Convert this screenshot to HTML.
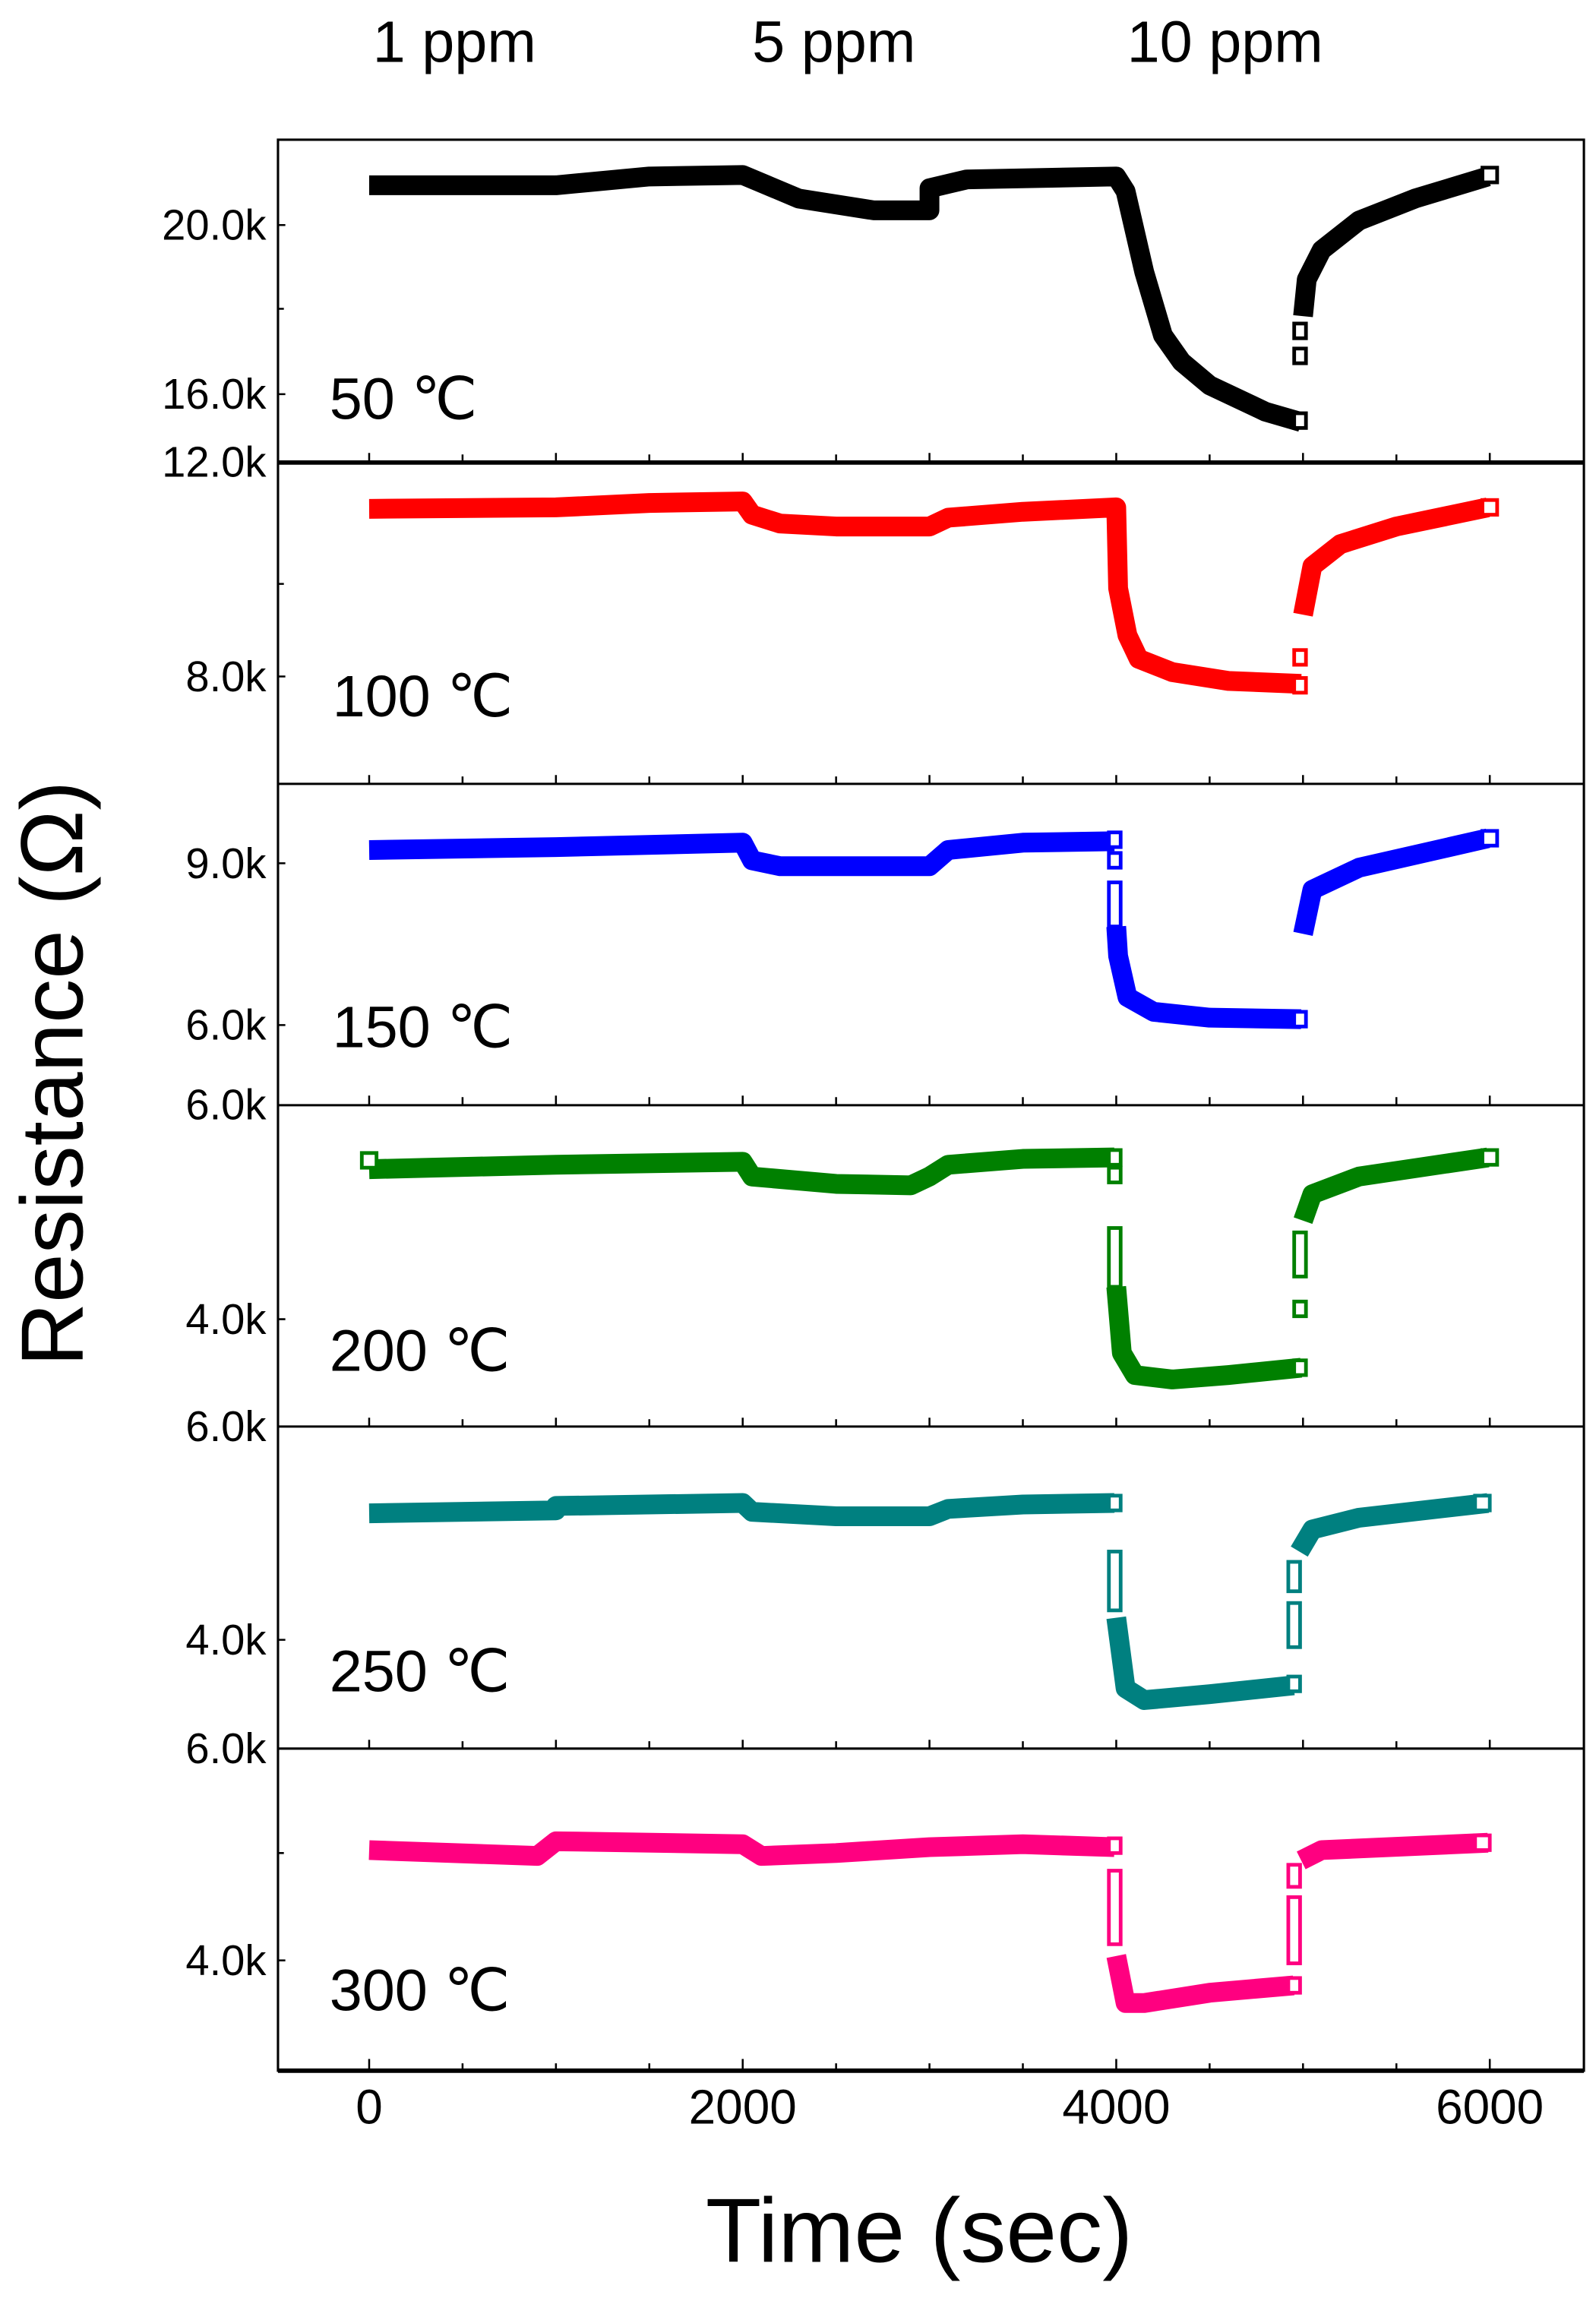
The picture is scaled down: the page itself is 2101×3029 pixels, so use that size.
<!DOCTYPE html>
<html><head><meta charset="utf-8"><style>
html,body{margin:0;padding:0;background:#fff;}
svg{display:block;}
text{font-family:"Liberation Sans Narrow","Liberation Sans",sans-serif;fill:#000;}
</style></head><body>
<svg width="2101" height="3029" viewBox="0 0 1085.2 1564.6" xmlns="http://www.w3.org/2000/svg">
<rect width="1085.2" height="1564.6" fill="#fff"/>
<text x="309" y="42" font-size="40" text-anchor="middle" style="font-family:'Liberation Sans',sans-serif">1 ppm</text>
<text x="567" y="42" font-size="40" text-anchor="middle" style="font-family:'Liberation Sans',sans-serif">5 ppm</text>
<text x="833" y="42" font-size="40" text-anchor="middle" style="font-family:'Liberation Sans',sans-serif">10 ppm</text>

<g fill="none" stroke="#000" stroke-width="1.6">
<rect x="189" y="95" width="888" height="1313"/>
<line x1="189" y1="533" x2="1077" y2="533"/>
<line x1="189" y1="751.5" x2="1077" y2="751.5"/>
<line x1="189" y1="970" x2="1077" y2="970"/>
<line x1="189" y1="1189" x2="1077" y2="1189"/>
</g>
<line x1="189" y1="314.5" x2="1077" y2="314.5" stroke="#000" stroke-width="3"/>
<line x1="189" y1="1408" x2="1077" y2="1408" stroke="#000" stroke-width="3"/>

<g stroke="#000" stroke-width="1.3">
<path d="M251 314v-6M314.5 314v-5M378 314v-6M441.5 314v-5M505 314v-6M568.5 314v-5M632 314v-6M695.5 314v-5M759 314v-6M822.5 314v-5M886 314v-6M949.5 314v-5M1013 314v-6"/>
<path transform="translate(0,219)" d="M251 314v-6M314.5 314v-5M378 314v-6M441.5 314v-5M505 314v-6M568.5 314v-5M632 314v-6M695.5 314v-5M759 314v-6M822.5 314v-5M886 314v-6M949.5 314v-5M1013 314v-6"/>
<path transform="translate(0,437)" d="M251 314v-6M314.5 314v-5M378 314v-6M441.5 314v-5M505 314v-6M568.5 314v-5M632 314v-6M695.5 314v-5M759 314v-6M822.5 314v-5M886 314v-6M949.5 314v-5M1013 314v-6"/>
<path transform="translate(0,656)" d="M251 314v-6M314.5 314v-5M378 314v-6M441.5 314v-5M505 314v-6M568.5 314v-5M632 314v-6M695.5 314v-5M759 314v-6M822.5 314v-5M886 314v-6M949.5 314v-5M1013 314v-6"/>
<path transform="translate(0,875)" d="M251 314v-6M314.5 314v-5M378 314v-6M441.5 314v-5M505 314v-6M568.5 314v-5M632 314v-6M695.5 314v-5M759 314v-6M822.5 314v-5M886 314v-6M949.5 314v-5M1013 314v-6"/>
<path transform="translate(0,1094)" d="M251 314v-8M314.5 314v-5M378 314v-5M441.5 314v-5M505 314v-8M568.5 314v-5M632 314v-5M695.5 314v-5M759 314v-8M822.5 314v-5M886 314v-5M949.5 314v-5M1013 314v-8"/>
<path d="M189 153h5M189 210h4M189 268h5M189 460h5M189 397h4M189 587h5M189 697h5M189 897h5M189 1115h5M189 1333h5M189 1260h4"/>
</g>

<g font-size="29" text-anchor="end">
<text x="181" y="163">20.0k</text>
<text x="181" y="278">16.0k</text>
<text x="181" y="324">12.0k</text>
<text x="181" y="470">8.0k</text>
<text x="181" y="597">9.0k</text>
<text x="181" y="707">6.0k</text>
<text x="181" y="761">6.0k</text>
<text x="181" y="907">4.0k</text>
<text x="181" y="980">6.0k</text>
<text x="181" y="1125">4.0k</text>
<text x="181" y="1199">6.0k</text>
<text x="181" y="1343">4.0k</text>
</g>
<g font-size="33" text-anchor="middle">
<text x="251" y="1444">0</text>
<text x="505" y="1444">2000</text>
<text x="759" y="1444">4000</text>
<text x="1013" y="1444">6000</text>
</g>
<text x="625" y="1538" font-size="62" text-anchor="middle" style="font-family:'Liberation Sans',sans-serif">Time (sec)</text>
<text transform="translate(56,730) rotate(-90)" font-size="60" text-anchor="middle" style="font-family:'Liberation Sans',sans-serif">Resistance (Ω)</text>

<g font-size="40" style="font-family:'Liberation Sans',sans-serif">
<text x="224" y="285">50 ℃</text>
<text x="226" y="487">100 ℃</text>
<text x="226" y="712">150 ℃</text>
<text x="224" y="932">200 ℃</text>
<text x="224" y="1150">250 ℃</text>
<text x="224" y="1367">300 ℃</text>
</g>

<g fill="none" stroke-linejoin="round" stroke-linecap="butt">
<g transform="translate(251,0) scale(0.127,1)">
<polyline vector-effect="non-scaling-stroke" stroke-width="26" stroke="#000" points="0,126 1000,126 1500,120 2000,119 2300,135 2700,143 3000,143 3000,128 3200,122 4000,120 4050,130 4150,185 4250,228 4350,246 4500,262 4800,280 4990,287"/>
<polyline vector-effect="non-scaling-stroke" stroke-width="26" stroke="#000" points="5000,215 5020,190 5100,170 5300,150 5600,135 5990,120"/>
<polyline vector-effect="non-scaling-stroke" stroke-width="26" stroke="#ff0000" points="0,346 1000,345 1500,342 2000,341 2050,350 2200,356 2500,358 3000,358 3100,352 3500,348 4000,345 4010,400 4060,432 4120,448 4300,457 4600,463 4990,465"/>
<polyline vector-effect="non-scaling-stroke" stroke-width="26" stroke="#ff0000" points="5000,418 5050,385 5200,370 5500,358 5990,345"/>
<polyline vector-effect="non-scaling-stroke" stroke-width="26" stroke="#0000ff" points="0,578 1000,576 2000,573 2050,585 2200,589 3000,589 3100,578 3500,573 3990,572"/>
<polyline vector-effect="non-scaling-stroke" stroke-width="26" stroke="#0000ff" points="4000,630 4010,650 4060,678 4200,688 4500,692 4990,693"/>
<polyline vector-effect="non-scaling-stroke" stroke-width="26" stroke="#0000ff" points="5000,635 5050,605 5300,590 5990,570"/>
<polyline vector-effect="non-scaling-stroke" stroke-width="26" stroke="#008000" points="0,795 1000,792 2000,790 2050,800 2500,805 2900,806 3000,800 3100,792 3500,788 3990,787"/>
<polyline vector-effect="non-scaling-stroke" stroke-width="26" stroke="#008000" points="4000,875 4030,920 4100,935 4300,938 4600,935 4990,930"/>
<polyline vector-effect="non-scaling-stroke" stroke-width="26" stroke="#008000" points="5000,830 5050,812 5300,800 5990,787"/>
<polyline vector-effect="non-scaling-stroke" stroke-width="26" stroke="#008080" points="0,1029 1000,1027 1000,1024 2000,1022 2050,1028 2500,1031 3000,1031 3100,1026 3500,1023 3990,1022"/>
<polyline vector-effect="non-scaling-stroke" stroke-width="26" stroke="#008080" points="4000,1100 4050,1148 4150,1156 4500,1152 4950,1146"/>
<polyline vector-effect="non-scaling-stroke" stroke-width="26" stroke="#008080" points="4980,1055 5050,1040 5300,1032 5990,1022"/>
<polyline vector-effect="non-scaling-stroke" stroke-width="26" stroke="#ff0080" points="0,1258 900,1262 1000,1252 2000,1254 2100,1262 2500,1260 3000,1256 3500,1254 3990,1256"/>
<polyline vector-effect="non-scaling-stroke" stroke-width="26" stroke="#ff0080" points="4000,1330 4050,1362 4150,1362 4500,1355 4950,1350"/>
<polyline vector-effect="non-scaling-stroke" stroke-width="26" stroke="#ff0080" points="4990,1265 5100,1258 5990,1253"/>
</g>
</g>

<g fill="#fff" stroke-width="2.5">
<g stroke="#000"><rect x="1008" y="114" width="10" height="10"/><rect x="880" y="237" width="8" height="10"/><rect x="880" y="220" width="8" height="10"/><rect x="880" y="281" width="8" height="10"/></g>
<g stroke="#ff0000"><rect x="1008" y="340" width="10" height="10"/><rect x="880" y="442" width="8" height="10"/><rect x="880" y="461" width="8" height="10"/></g>
<g stroke="#0000ff"><rect x="1008" y="565" width="10" height="10"/><rect x="754" y="566" width="8" height="10"/><rect x="754" y="580" width="8" height="10"/><rect x="754" y="600" width="8" height="30"/><rect x="880" y="688" width="8" height="10"/></g>
<g stroke="#008000"><rect x="1008" y="782" width="10" height="10"/><rect x="246" y="784" width="10" height="10"/><rect x="754" y="782" width="8" height="10"/><rect x="754" y="794" width="8" height="10"/><rect x="754" y="835" width="8" height="40"/><rect x="880" y="925" width="8" height="10"/><rect x="880" y="885" width="8" height="10"/><rect x="880" y="838" width="8" height="30"/></g>
<g stroke="#008080"><rect x="1003" y="1017" width="10" height="10"/><rect x="754" y="1017" width="8" height="10"/><rect x="754" y="1055" width="8" height="40"/><rect x="876" y="1140" width="8" height="10"/><rect x="876" y="1090" width="8" height="30"/><rect x="876" y="1062" width="8" height="20"/></g>
<g stroke="#ff0080"><rect x="1003" y="1248" width="10" height="10"/><rect x="754" y="1250" width="8" height="10"/><rect x="754" y="1272" width="8" height="50"/><rect x="876" y="1345" width="8" height="10"/><rect x="876" y="1290" width="8" height="45"/><rect x="876" y="1268" width="8" height="15"/></g>
</g>
</svg>
</body></html>
